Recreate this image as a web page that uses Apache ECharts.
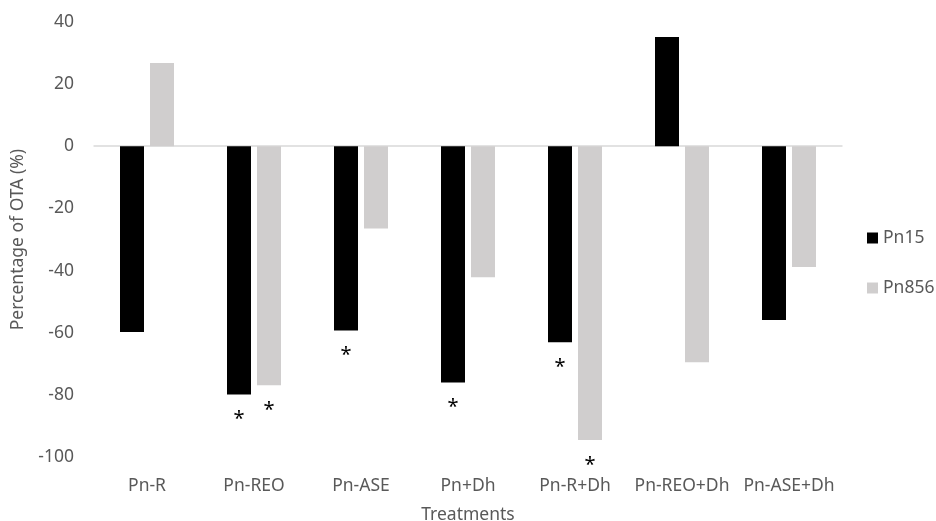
<!DOCTYPE html>
<html>
<head>
<meta charset="utf-8">
<script src="https://cdn.jsdelivr.net/npm/echarts@6/dist/echarts.min.js"></script>
<style>html,body{margin:0;padding:0;background:#fff}#c{width:936px;height:521px}</style>
</head>
<body>
<div id="c"></div>
<script>
const categories = ['Pn-R', 'Pn-REO', 'Pn-ASE', 'Pn+Dh', 'Pn-R+Dh', 'Pn-REO+Dh', 'Pn-ASE+Dh'];
const pn15 = [-59.7, -79.8, -59.2, -75.9, -63.0, 35.1, -55.8];
const pn856 = [26.7, -76.8, -26.4, -42.1, -94.4, -69.4, -38.8];
const sig15 = [0, 1, 1, 1, 1, 0, 0];
const sig856 = [0, 1, 0, 0, 1, 0, 0];
const yTicks = { min: -100, max: 40, interval: 20 };

const FONT = 'Noto Sans';
const GREY_TXT = '#595959';
const FS = 17.5;

function starLabel(flags) {
  return {
    show: true,
    position: 'bottom',
    distance: 15,
    formatter: p => flags[p.dataIndex] ? '*' : '',
    color: '#000',
    fontSize: 20,
    fontFamily: FONT
  };
}

const chart = echarts.init(document.getElementById('c'), null, { renderer: 'canvas' });
chart.setOption({
  animation: false,
  backgroundColor: '#fff',
  textStyle: { fontFamily: FONT },
  grid: { left: 93.5, right: 93.5, top: 21.7, bottom: 63.5, containLabel: false, outerBoundsMode: 'none' },
  legend: {
    orient: 'vertical',
    left: 867,
    top: 228,
    padding: 0,
    itemWidth: 11,
    itemHeight: 11,
    itemGap: 30,
    icon: 'rect',
    textStyle: { color: GREY_TXT, fontSize: FS, fontFamily: FONT, lineHeight: 20 },
    data: ['Pn15', 'Pn856']
  },
  xAxis: {
    type: 'category',
    data: categories,
    axisLine: { show: false, onZero: false },
    axisTick: { show: false },
    axisLabel: { color: GREY_TXT, fontSize: FS, fontFamily: FONT, margin: 19, lineHeight: 20, interval: 0 },
    name: 'Treatments',
    nameLocation: 'middle',
    nameGap: 49,
    nameTextStyle: { color: GREY_TXT, fontSize: FS, fontFamily: FONT }
  },
  yAxis: {
    type: 'value',
    min: yTicks.min,
    max: yTicks.max,
    interval: yTicks.interval,
    axisLine: { show: false },
    axisTick: { show: false },
    splitLine: { show: false },
    axisLabel: { color: GREY_TXT, fontSize: FS, fontFamily: FONT, margin: 19.5 },
    name: 'Percentage of OTA (%)',
    nameLocation: 'middle',
    nameGap: 63,
    nameTextStyle: { color: GREY_TXT, fontSize: FS, fontFamily: FONT }
  },
  series: [
    {
      name: 'Pn15',
      type: 'bar',
      data: pn15,
      barWidth: 24,
      barGap: '25%',
      itemStyle: { color: '#000000' },
      label: starLabel(sig15),
      markLine: {
        silent: true,
        symbol: 'none',
        label: { show: false },
        lineStyle: { color: '#d9d9d9', width: 1.5, type: 'solid' },
        data: [{ yAxis: 0 }],
        z: 1
      },
      z: 2
    },
    {
      name: 'Pn856',
      type: 'bar',
      data: pn856,
      barWidth: 24,
      barGap: '25%',
      itemStyle: { color: '#d0cece' },
      label: starLabel(sig856),
      z: 2
    }
  ]
});
</script>
</body>
</html>
